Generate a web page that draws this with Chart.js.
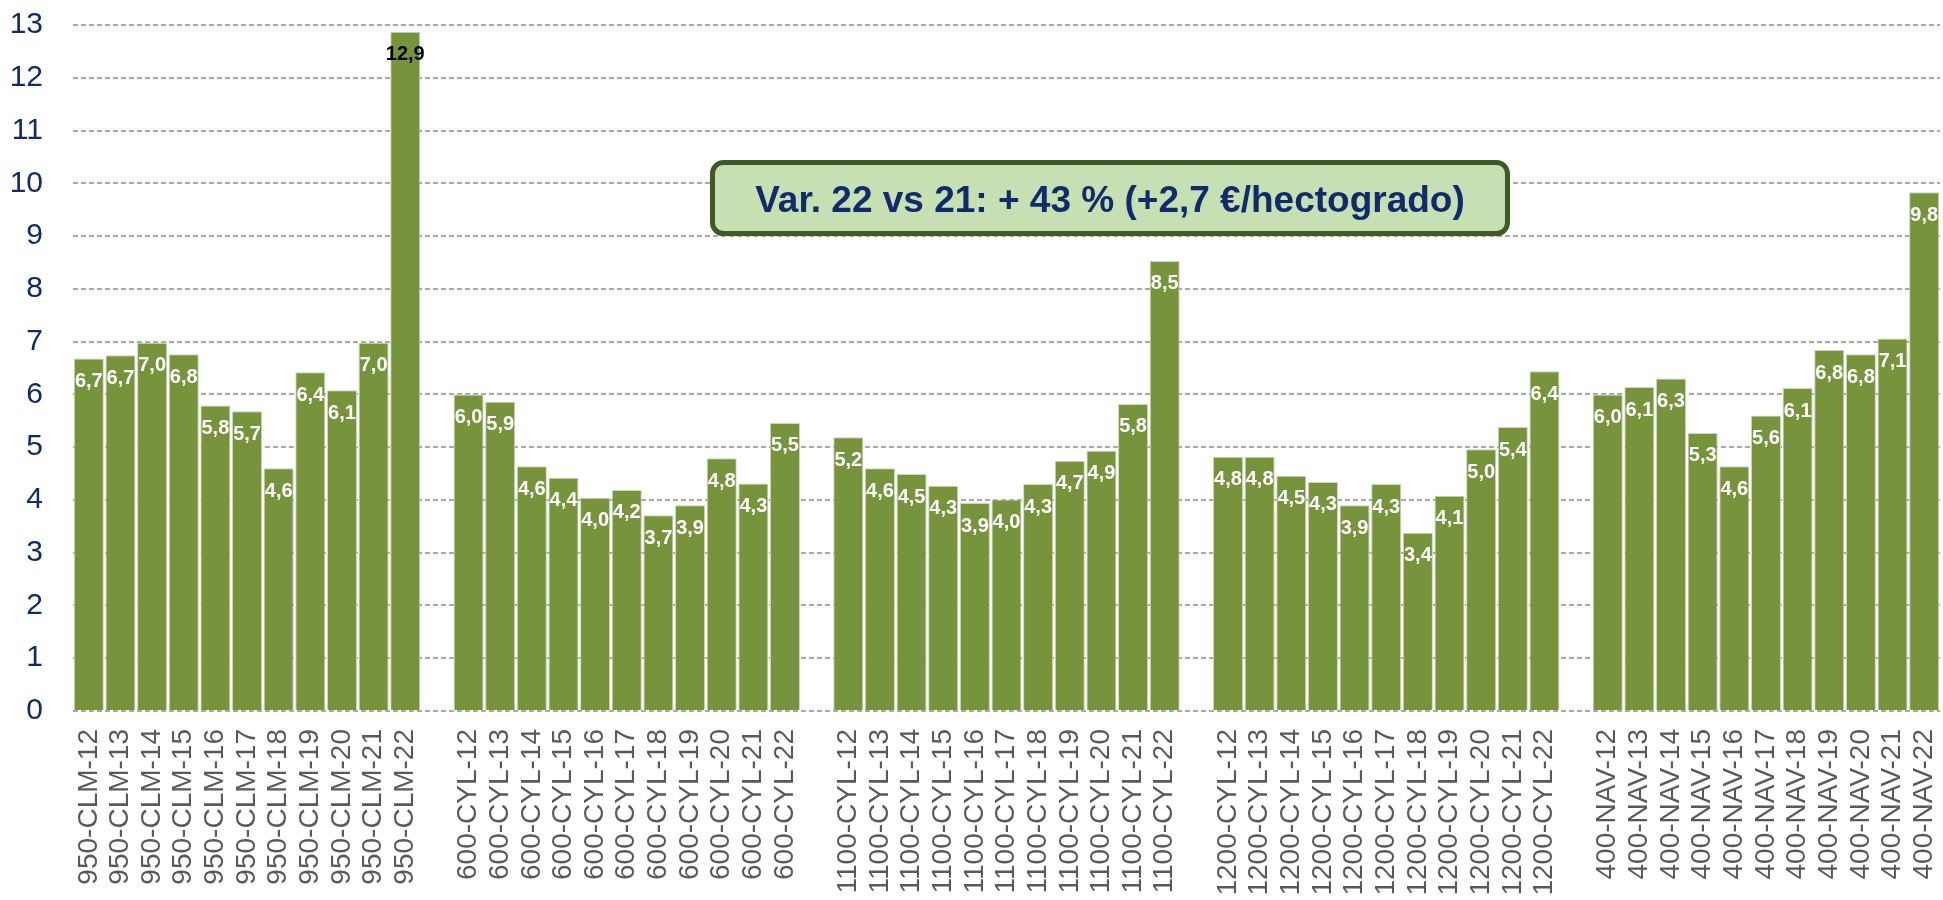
<!DOCTYPE html>
<html>
<head>
<meta charset="utf-8">
<script src="https://cdn.jsdelivr.net/npm/chart.js@4"></script>
<style>
  html, body { margin: 0; padding: 0; background: #fff; }
</style>
</head>
<body>
<canvas id="price-chart" width="1943" height="900"></canvas>
<script>
const groupNames = ['950-CLM', '600-CYL', '1100-CYL', '1200-CYL', '400-NAV'];
const years = ['12', '13', '14', '15', '16', '17', '18', '19', '20', '21', '22'];

const clm950 = [6.68, 6.74, 6.98, 6.76, 5.79, 5.68, 4.60, 6.42, 6.08, 6.98, 12.87];
const cyl600 = [6.00, 5.86, 4.64, 4.42, 4.04, 4.19, 3.71, 3.90, 4.79, 4.31, 5.46];
const cyl1100 = [5.19, 4.60, 4.49, 4.27, 3.94, 4.01, 4.30, 4.74, 4.93, 5.82, 8.53];
const cyl1200 = [4.82, 4.82, 4.46, 4.34, 3.90, 4.30, 3.38, 4.08, 4.96, 5.38, 6.44];
const nav400 = [6.00, 6.14, 6.30, 5.27, 4.64, 5.60, 6.12, 6.84, 6.76, 7.06, 9.83];

const yTicks = [0, 1, 2, 3, 4, 5, 6, 7, 8, 9, 10, 11, 12, 13];

const noteText = 'Var. 22 vs 21: + 43 % (+2,7 €/hectogrado)';
// centre of the note box, in axis units (category index, value)
const notePos = [32.27, 9.72];

// one empty category between groups
const seriesGroups = [clm950, cyl600, cyl1100, cyl1200, nav400];
const labels = [];
const values = [];
groupNames.forEach((g, i) => {
  if (i > 0) { labels.push(''); values.push(null); }
  years.forEach((y, j) => {
    labels.push(g + '-' + y);
    values.push(seriesGroups[i][j]);
  });
});

const FONT = "'Liberation Sans', Arial, sans-serif";
const NAVY = '#102a6a';

function fmt(v) {
  return v.toFixed(1).replace('.', ',');
}

const barLabels = {
  id: 'barLabels',
  afterDatasetsDraw(chart) {
    const ctx = chart.ctx;
    const meta = chart.getDatasetMeta(0);
    ctx.save();
    ctx.font = 'bold 20px ' + FONT;
    ctx.textAlign = 'center';
    ctx.textBaseline = 'middle';
    meta.data.forEach((bar, i) => {
      const v = values[i];
      if (v == null) return;
      ctx.fillStyle = v > 12 ? '#000000' : '#ffffff';
      ctx.fillText(fmt(v), bar.x, bar.y + 23);
    });
    ctx.restore();
  }
};

const noteBox = {
  id: 'noteBox',
  afterDraw(chart) {
    const ctx = chart.ctx;
    const cx = chart.scales.x.getPixelForValue(notePos[0]);
    const cy = chart.scales.y.getPixelForValue(notePos[1]);
    const w = 795, h = 71;
    ctx.save();
    ctx.beginPath();
    ctx.roundRect(cx - w / 2, cy - h / 2, w, h, 11);
    ctx.fillStyle = '#c6e0b4';
    ctx.fill();
    ctx.lineWidth = 5;
    ctx.strokeStyle = '#3f5a24';
    ctx.stroke();

    ctx.font = 'bold 37px ' + FONT;
    ctx.fillStyle = NAVY;
    ctx.textAlign = 'center';
    ctx.textBaseline = 'alphabetic';
    ctx.fillText(noteText, cx, cy + 14);
    ctx.restore();
  }
};

const config = {
  type: 'bar',
  data: {
    labels: labels,
    datasets: [{
      data: values,
      backgroundColor: '#77933c',
      borderColor: '#cdd6bf',
      borderWidth: 1,
      barPercentage: 0.95,
      categoryPercentage: 1
    }]
  },
  options: {
    responsive: false,
    animation: false,
    layout: {
      padding: { top: 25, right: 3, left: 0, bottom: 0 }
    },
    plugins: {
      legend: { display: false },
      tooltip: { enabled: false }
    },
    scales: {
      x: {
        grid: { display: false, drawTicks: false },
        border: { display: false },
        ticks: {
          autoSkip: false,
          maxRotation: 90,
          minRotation: 90,
          padding: 18,
          color: '#595959',
          font: { size: 28, family: FONT }
        },
        afterFit(scale) {
          scale.height = 189;
          scale.paddingLeft = 0;
          scale.paddingRight = 0;
        }
      },
      y: {
        min: 0,
        max: 13,
        afterBuildTicks(scale) {
          scale.ticks = yTicks.map(v => ({ value: v }));
        },
        grid: {
          color: '#a9a9a9',
          lineWidth: 2,
          drawTicks: false
        },
        border: { display: false, dash: [5, 3] },
        ticks: {
          padding: 30,
          color: NAVY,
          font: { size: 30, family: FONT }
        },
        afterFit(scale) {
          scale.width = 73;
          scale.paddingTop = 0;
          scale.paddingBottom = 0;
        }
      }
    }
  },
  plugins: [barLabels, noteBox]
};

Chart.defaults.font.family = FONT;

const priceChart = new Chart(
  document.getElementById('price-chart'),
  config
);
</script>
</body>
</html>
